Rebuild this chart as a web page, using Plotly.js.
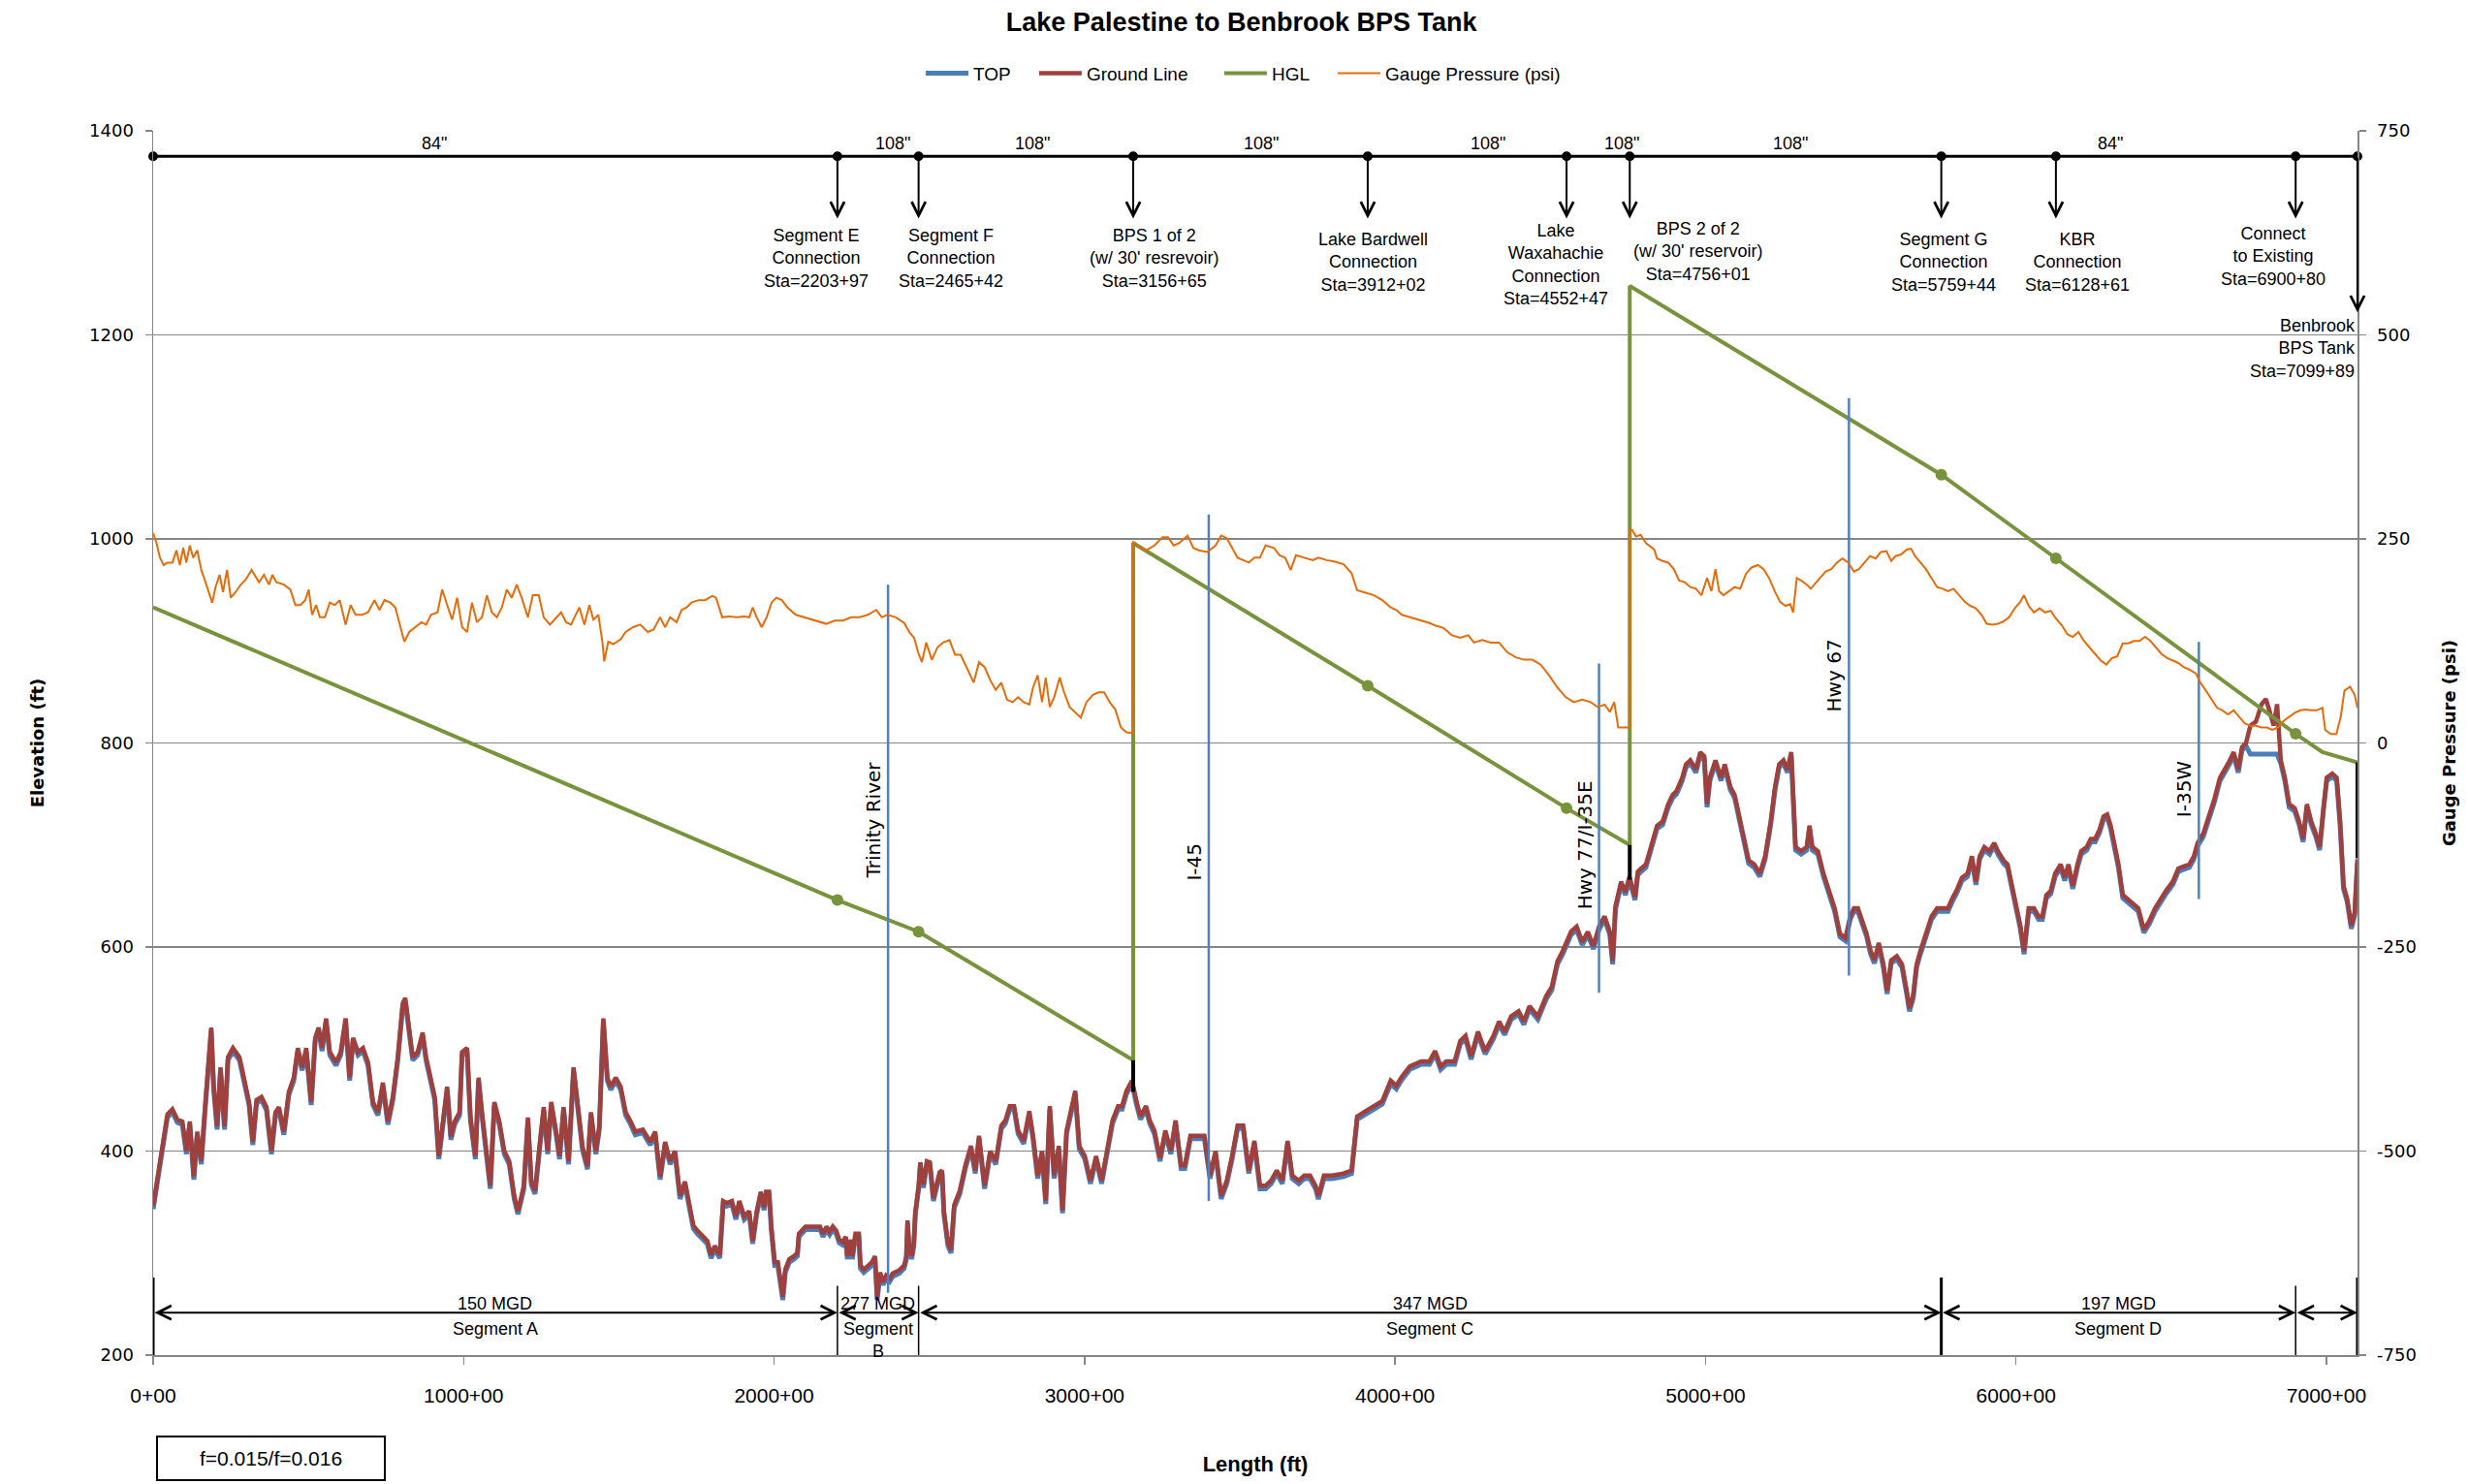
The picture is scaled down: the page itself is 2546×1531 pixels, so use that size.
<!DOCTYPE html>
<html><head><meta charset="utf-8">
<script src="https://cdn.plot.ly/plotly-3.0.1.min.js"></script>
<style>html,body{margin:0;padding:0;background:#fff;}#chart{width:2546px;height:1531px;}</style>
</head><body><div id="chart"></div>
<script>
// ---------- DATA (stations in hundreds of feet, elevations in ft) ----------
const groundSta = [0,14,30,46,62,78,94,107,118,131,142,155,166,174,187,195,206,217,230,241,257,278,293,309,321,333,349,365,381,394,405,421,437,453,466,480,493,509,522,533,544,557,569,589,604,620,633,644,660,676,692,708,724,740,756,772,788,804,812,820,836,852,868,879,892,907,920,931,947,959,971,987,995,1011,1022,1038,1048,1059,1070,1086,1099,1115,1131,1147,1163,1175,1194,1207,1218,1230,1246,1258,1271,1282,1298,1309,1322,1338,1354,1370,1383,1399,1410,1426,1437,1450,1463,1474,1490,1506,1522,1538,1553,1577,1601,1617,1633,1649,1665,1681,1697,1713,1729,1740,1753,1769,1785,1797,1809,1825,1836,1848,1864,1877,1888,1904,1920,1931,1944,1957,1968,1974,1984,1991,2002,2012,2023,2028,2036,2049,2064,2075,2080,2090,2101,2148,2158,2169,2179,2189,2200,2210,2221,2231,2236,2247,2252,2262,2273,2278,2289,2304,2315,2325,2332,2341,2351,2361,2372,2382,2403,2419,2426,2430,2434,2443,2450,2455,2466,2471,2481,2492,2502,2513,2523,2533,2541,2547,2560,2570,2580,2598,2616,2634,2648,2660,2678,2696,2714,2732,2745,2759,2773,2786,2804,2822,2834,2849,2863,2875,2888,2902,2917,2929,2942,2956,2970,2983,3001,3019,3037,3055,3072,3090,3108,3121,3135,3153,3167,3180,3198,3210,3225,3243,3260,3278,3293,3311,3323,3341,3359,3386,3404,3422,3440,3458,3475,3493,3511,3529,3547,3565,3583,3601,3619,3637,3654,3669,3690,3708,3726,3744,3753,3771,3798,3834,3860,3878,3905,3932,3959,3986,4004,4022,4048,4084,4111,4129,4147,4165,4192,4210,4227,4245,4267,4290,4317,4335,4353,4374,4398,4415,4433,4460,4487,4505,4523,4540,4567,4585,4603,4621,4639,4657,4675,4692,4701,4710,4728,4742,4755,4773,4782,4808,4826,4844,4862,4880,4894,4907,4925,4937,4951,4969,4983,4996,5005,5014,5032,5050,5062,5080,5094,5112,5126,5139,5157,5175,5192,5210,5224,5237,5251,5264,5276,5290,5308,5326,5335,5344,5362,5380,5398,5416,5433,5451,5466,5478,5491,5505,5519,5532,5544,5558,5573,5585,5598,5616,5633,5648,5657,5669,5680,5692,5710,5728,5746,5764,5781,5794,5808,5826,5844,5858,5871,5883,5898,5915,5930,5942,5960,5973,5987,6001,6014,6026,6041,6058,6073,6085,6098,6112,6126,6144,6157,6169,6183,6198,6210,6228,6241,6255,6269,6282,6294,6305,6317,6330,6344,6358,6376,6394,6412,6430,6448,6465,6483,6505,6523,6540,6558,6573,6585,6603,6621,6639,6657,6674,6689,6701,6716,6728,6741,6755,6773,6791,6805,6818,6830,6841,6853,6866,6880,6898,6912,6925,6937,6951,6966,6978,6991,7001,7019,7033,7044,7055,7067,7080,7091,7099.89];
const groundElev = [346,375,409,436,441,431,429,400,429,375,419,390,438,472,521,463,424,482,424,492,501,492,472,448,409,450,453,443,400,438,443,419,458,472,501,482,501,448,511,521,501,530,497,487,497,530,472,511,497,501,487,448,438,467,429,453,492,545,550,530,492,497,516,492,472,453,395,424,463,414,429,438,497,501,433,395,472,438,409,366,448,429,400,390,356,341,366,433,370,361,409,443,400,448,419,395,443,390,482,438,404,385,438,400,424,530,472,463,472,463,438,429,419,421,409,419,375,409,390,400,356,370,346,327,322,317,312,298,307,298,351,349,351,336,351,336,341,312,341,360,345,360,360,326,291,291,265,257,284,294,297,300,319,322,326,326,319,326,321,326,322,313,311,316,297,313,297,319,319,288,284,288,291,297,257,281,272,278,275,280,283,288,297,332,310,297,310,341,367,389,367,390,389,354,367,379,381,341,310,303,347,361,386,405,381,415,366,400,390,425,430,444,444,420,410,439,415,376,400,351,444,376,405,342,420,439,459,405,395,371,395,371,400,430,444,444,459,469,449,434,444,430,420,393,420,400,430,386,386,415,415,415,376,400,356,371,395,425,425,381,410,366,366,371,381,371,410,376,371,376,376,366,356,376,376,378,381,434,439,444,449,469,464,473,483,488,488,498,483,488,488,508,513,493,517,498,513,527,517,532,537,527,542,532,552,561,586,596,615,620,605,615,601,620,630,615,586,640,664,654,669,649,674,681,702,719,723,740,749,753,766,779,783,774,791,787,740,766,783,766,779,757,749,723,702,685,681,672,689,723,757,779,783,774,791,698,694,698,719,698,694,672,655,638,613,609,630,638,638,626,613,596,587,604,583,557,587,591,583,557,540,553,583,596,613,630,638,638,638,647,655,668,672,689,664,689,698,694,702,694,685,681,660,643,621,596,638,638,630,630,651,655,672,681,668,681,660,681,694,698,706,706,715,728,730,719,702,681,651,647,643,638,617,626,638,647,655,664,677,679,681,689,702,711,728,745,766,774,783,791,774,796,800,817,821,838,843,830,817,838,783,766,740,736,723,706,740,723,711,698,740,766,770,766,723,660,647,621,634,686];
const topElev = [343,372,406,433,438,428,426,397,426,372,416,387,435,469,518,460,421,479,421,489,498,489,469,445,406,447,450,440,397,435,440,416,455,469,498,479,498,445,508,518,498,527,494,484,494,527,469,508,494,498,484,445,435,464,426,450,489,542,547,527,489,494,513,489,469,450,392,421,460,411,426,435,494,498,430,392,469,435,406,363,445,426,397,387,353,338,363,430,367,358,406,440,397,445,416,392,440,387,479,435,401,382,435,397,421,527,469,460,469,460,435,426,416,418,406,416,372,406,387,397,353,367,343,324,319,314,309,295,304,295,348,346,348,333,348,333,338,309,338,357,342,357,357,323,288,288,262,254,281,291,294,297,316,319,323,323,316,323,318,323,319,310,308,313,294,310,294,316,316,285,281,285,288,294,254,278,269,275,272,277,280,285,294,329,307,294,307,338,364,386,364,387,386,351,364,376,378,338,307,300,344,358,383,402,378,412,363,397,387,422,427,441,441,417,407,436,412,373,397,348,441,373,402,339,417,436,456,402,392,368,392,368,397,427,441,441,456,466,446,431,441,427,417,390,417,397,427,383,383,412,412,412,373,397,353,368,392,422,422,378,407,363,363,368,378,368,407,373,368,373,373,363,353,373,373,375,378,431,436,441,446,466,461,470,480,485,485,495,480,485,485,505,510,490,514,495,510,524,514,529,534,524,539,529,549,558,583,593,612,617,602,612,598,617,627,612,583,637,661,651,666,646,671,678,699,716,720,737,746,750,763,776,780,771,788,784,737,763,780,763,776,754,746,720,699,682,678,669,686,720,754,776,780,771,788,695,691,695,716,695,691,669,652,635,610,606,627,635,635,623,610,593,584,601,580,554,584,588,580,554,537,550,580,593,610,627,635,635,635,644,652,665,669,686,661,686,695,691,699,691,682,678,657,640,618,593,635,635,627,627,648,652,669,678,665,678,657,678,691,695,703,703,712,725,727,716,699,678,648,644,640,635,614,623,635,644,652,661,674,676,678,686,699,708,725,742,763,771,780,788,771,793,797,789,789,789,789,789,789,789,780,763,737,733,720,703,737,720,708,695,737,763,767,763,720,657,644,618,631,683];

const hglSta  = [0, 2203.97, 2465.42, 3156.65, 3156.65, 3912.02, 4552.47, 4756.01, 4756.01, 5759.44, 6128.61, 6900.80, 6987, 7099.89];
const hglElev = [933, 646, 615, 489, 996, 856, 736, 700, 1248, 1063, 981, 809, 791, 781];

const pressSta = [0,11,22,34,46,62,75,86,97,107,118,129,142,155,166,177,190,201,214,225,238,250,266,282,298,317,330,341,357,373,384,397,421,442,458,474,490,501,512,525,537,553,569,585,601,620,636,652,673,692,713,729,745,764,780,796,809,825,844,864,879,895,916,931,947,963,979,995,1011,1027,1043,1059,1075,1091,1107,1123,1139,1155,1171,1187,1207,1223,1242,1258,1278,1298,1314,1330,1346,1357,1373,1389,1405,1418,1434,1447,1453,1466,1482,1506,1522,1546,1569,1593,1612,1633,1649,1665,1686,1702,1718,1734,1756,1777,1801,1813,1833,1856,1880,1904,1920,1931,1944,1960,1976,1992,2007,2025,2043,2070,2096,2132,2168,2195,2222,2249,2276,2302,2329,2347,2365,2392,2419,2437,2451,2464,2476,2490,2508,2526,2544,2565,2583,2601,2625,2643,2660,2678,2696,2714,2732,2750,2768,2786,2804,2822,2834,2849,2863,2875,2888,2902,2920,2934,2952,2970,2988,3006,3027,3045,3063,3081,3099,3117,3135,3156.65,3156.65,3162,3180,3198,3225,3251,3269,3287,3305,3332,3350,3368,3395,3422,3440,3458,3475,3493,3511,3529,3547,3565,3583,3610,3628,3646,3664,3681,3708,3735,3753,3780,3807,3834,3860,3878,3905,3932,3959,3986,4004,4022,4048,4084,4111,4129,4156,4183,4210,4236,4254,4281,4308,4335,4362,4389,4415,4442,4469,4496,4523,4550,4576,4603,4630,4653,4675,4692,4706,4719,4737,4756.01,4756.01,4764,4776,4791,4808,4835,4844,4862,4880,4898,4915,4933,4951,4969,4987,5005,5019,5032,5044,5058,5076,5094,5112,5130,5148,5169,5187,5205,5223,5240,5258,5273,5282,5294,5308,5326,5339,5351,5369,5387,5405,5423,5441,5460,5478,5494,5512,5530,5548,5565,5583,5598,5612,5630,5648,5662,5675,5692,5710,5728,5746,5764,5781,5799,5817,5835,5853,5871,5889,5906,5924,5942,5960,5978,5996,6014,6026,6041,6058,6076,6094,6112,6130,6148,6166,6183,6201,6219,6237,6255,6273,6291,6309,6326,6344,6362,6380,6398,6416,6433,6451,6469,6487,6505,6523,6540,6558,6580,6594,6612,6630,6648,6665,6683,6701,6719,6737,6755,6773,6791,6808,6826,6844,6862,6880,6898,6916,6933,6951,6969,6987,6996,7014,7032,7046,7058,7076,7091,7099.89];
const pressPsi = [257,245,227,218,221,221,236,218,239,221,242,227,236,212,200,188,172,191,206,185,212,178,185,194,200,212,203,197,206,194,206,197,194,188,169,169,175,188,157,169,154,154,172,169,175,145,169,157,157,160,175,163,175,172,166,142,124,136,142,148,145,157,160,188,169,151,178,142,136,172,148,154,181,160,154,166,188,178,194,178,154,181,181,154,145,154,160,148,145,154,166,145,169,151,157,124,100,124,121,127,136,142,145,136,139,154,142,154,148,163,166,172,175,175,180,178,154,155,154,155,154,166,154,142,154,172,178,175,166,157,154,150,146,150,150,154,154,157,163,154,157,154,147,135,129,111,99,123,102,117,123,126,108,108,89,74,99,93,77,65,74,53,50,56,50,47,68,83,50,80,44,56,80,62,44,38,31,50,59,62,62,50,41,19,13,12,246,245,239,236,242,252,252,242,245,254,239,236,234,242,254,251,239,227,224,221,227,227,242,239,230,227,212,230,227,224,227,224,222,219,208,187,184,181,175,166,163,157,154,150,147,144,141,132,129,132,123,126,123,123,111,105,102,102,96,83,68,56,50,53,50,44,47,38,50,19,19,19,261,261,253,255,245,237,226,223,221,213,199,197,191,189,181,202,186,213,186,181,186,191,189,207,215,218,213,202,186,173,168,170,160,202,199,194,189,194,202,210,213,221,226,221,210,213,221,229,226,234,235,223,229,231,237,238,229,221,213,202,191,189,186,189,181,173,168,165,157,146,145,146,149,154,165,173,181,168,160,165,160,162,152,144,133,130,136,125,117,109,101,96,104,106,122,122,125,125,130,125,117,109,104,101,98,93,90,85,74,64,53,43,40,35,40,32,24,21,21,19,19,16,19,27,32,37,40,41,40,40,43,16,11,11,32,64,69,59,43];

// pipeline junctions along the top bar
const junctionSta = [0, 2203.97, 2465.42, 3156.65, 3912.02, 4552.47, 4756.01, 5759.44, 6128.61, 6900.80, 7099.89];
const junctionLabels = ["Segment E<br>Connection<br>Sta=2203+97", "Segment F<br>Connection<br>Sta=2465+42",
  "BPS 1 of 2<br>(w/ 30' resrevoir)<br>Sta=3156+65", "Lake Bardwell<br>Connection<br>Sta=3912+02",
  "Lake<br>Waxahachie<br>Connection<br>Sta=4552+47", "BPS 2 of 2<br>(w/ 30' reservoir)<br>Sta=4756+01",
  "Segment G<br>Connection<br>Sta=5759+44", "KBR<br>Connection<br>Sta=6128+61",
  "Connect<br>to Existing<br>Sta=6900+80", "Benbrook<br>BPS Tank<br>Sta=7099+89"];
const diamText = ['84"', '108"', '108"', '108"', '108"', '108"', '108"', '84"'];

// road / river crossings
const crossName = ['Trinity River', 'I-45', 'Hwy 77/I-35E', 'Hwy 67', 'I-35W'];
const crossSta  = [2367, 3400, 4657, 5462, 6589];
const crossLow  = [261, 351, 555, 572, 647];
const crossHigh = [955, 1024, 878, 1138, 899];

// pump stations / tank
const bpsSta  = [3156.65, 4756.01, 7099.89];
const bpsLow  = [458, 666, 687];
const bpsHigh = [489, 700, 781];

// flow segments along the bottom
const segBounds = [0, 2203.97, 2465.42, 5759.44, 6900.80, 7099.89];
const segFlow = ['150 MGD', '277 MGD', '347 MGD', '197 MGD', ''];
const segName = ['Segment A', 'Segment<br>B', 'Segment C', 'Segment D', ''];

const xTickVals = [0, 1000, 2000, 3000, 4000, 5000, 6000, 7000];
const xTickText = ['0+00', '1000+00', '2000+00', '3000+00', '4000+00', '5000+00', '6000+00', '7000+00'];
const psiTickVals = [-750, -500, -250, 0, 250, 500, 750];
const psiTickText = ['-750', '-500', '-250', '0', '250', '500', '750'];

// ---------- placement (layout only) ----------
const barElev = 1375, arrowTipElev = 1314, tankArrowTipElev = 1222;
const junctionLabelSta = [2137, 2569, 3223, 3929, 4518, 4975, 5766, 6198, 6827, 7099.89];
const junctionLabelTop = [1309, 1309, 1309, 1305, 1314, 1315, 1305, 1305, 1311, 1220];
const diamLabelSta = [904, 2381, 2832, 3569, 4299, 4731, 5274, 6305];
const crossLabelElev = [724, 684, 700, 866, 755];
const flowArrowElev = 241.6;
const thickBounds = [0, 5759.44, 7099.89];
const legendX = [0.3483, 0.3997, 0.4837, 0.5352];

[[groundSta, groundElev], [groundSta, topElev], [pressSta, pressPsi], [hglSta, hglElev]].forEach(function (p, i) {
  if (p[0].length !== p[1].length) throw new Error('length mismatch ' + i + ': ' + p[0].length + ' vs ' + p[1].length);
});

const F_NARROW = 'Liberation Sans, Arial, sans-serif';
const F_VERD = 'DejaVu Sans, Verdana, sans-serif';
const GRID = '#868686';

function segs(xs, lo, hi) {
  const x = [], y = [];
  xs.forEach(function (s, i) { x.push(s, s, null); y.push(lo[i], hi[i], null); });
  return {x: x, y: y};
}
const bpsSeg = segs(bpsSta, bpsLow, bpsHigh);
const crossSeg = segs(crossSta, crossLow, crossHigh);
const hglNodeX = [], hglNodeY = [];
hglSta.forEach(function (s, i) {
  if (i > 0 && i < hglSta.length - 1 && junctionSta.indexOf(s) >= 0 && bpsSta.indexOf(s) < 0) { hglNodeX.push(s); hglNodeY.push(hglElev[i]); }
});

const data = [
  {type: 'scatter', mode: 'lines', name: 'TOP', legend: 'legend', x: groundSta, y: topElev, line: {color: '#4A7EBB', width: 5}},
  {type: 'scatter', mode: 'lines', name: 'Ground Line', legend: 'legend2', x: groundSta, y: groundElev, line: {color: '#A0403D', width: 4.5}},
  {type: 'scatter', mode: 'lines', name: 'HGL', legend: 'legend3', x: hglSta, y: hglElev, line: {color: '#77933C', width: 4}},
  {type: 'scatter', mode: 'markers', showlegend: false, x: hglNodeX, y: hglNodeY, marker: {color: '#77933C', size: 12}},
  {type: 'scatter', mode: 'lines', showlegend: false, x: bpsSeg.x, y: bpsSeg.y, line: {color: '#000', width: 4}},
  {type: 'scatter', mode: 'lines', showlegend: false, x: crossSeg.x, y: crossSeg.y, line: {color: '#4F81BD', width: 2.5}},
  {type: 'scatter', mode: 'lines+markers', showlegend: false, cliponaxis: false, x: junctionSta, y: junctionSta.map(function () { return barElev; }),
    line: {color: '#000', width: 3}, marker: {color: '#000', size: 10}},
  {type: 'scatter', mode: 'lines', name: 'Gauge Pressure (psi)', legend: 'legend4', x: pressSta, y: pressPsi, yaxis: 'y2', line: {color: '#E46C0A', width: 2}}
];

const ann = [];
const lastSta = junctionSta[junctionSta.length - 1];
junctionSta.forEach(function (s, i) {
  if (i === 0) return;
  ann.push({x: s, y: s === lastSta ? tankArrowTipElev : arrowTipElev, ax: s, ay: barElev, xref: 'x', yref: 'y', axref: 'x', ayref: 'y',
    text: '', showarrow: true, arrowhead: 5, arrowsize: 1.4, arrowwidth: 2, arrowcolor: '#000', standoff: 0});
  const isLast = s === lastSta;
  ann.push({x: junctionLabelSta[i - 1], y: junctionLabelTop[i - 1], xref: 'x', yref: 'y', text: junctionLabels[i - 1], showarrow: false,
    xanchor: isLast ? 'right' : 'center', yanchor: 'top', align: isLast ? 'right' : 'center',
    font: {family: F_NARROW, size: 18, color: '#000'}});
});
diamText.forEach(function (t, i) {
  ann.push({x: diamLabelSta[i], y: 1388, xref: 'x', yref: 'y', text: t, showarrow: false, yanchor: 'middle',
    font: {family: F_NARROW, size: 18, color: '#000'}});
});
crossName.forEach(function (t, i) {
  ann.push({x: crossSta[i], y: crossLabelElev[i], xref: 'x', yref: 'y', xshift: -15, text: t, showarrow: false, textangle: -90,
    xanchor: 'center', yanchor: 'middle', font: {family: F_VERD, size: 20, color: '#000'}});
});
for (let i = 0; i < segBounds.length - 1; i++) {
  ann.push({x: segBounds[i + 1], y: flowArrowElev, ax: segBounds[i], ay: flowArrowElev, xref: 'x', yref: 'y', axref: 'x', ayref: 'y',
    text: '', showarrow: true, arrowside: 'end+start', arrowhead: 5, startarrowhead: 5, arrowsize: 1.4, startarrowsize: 1.4,
    arrowwidth: 2, arrowcolor: '#000', standoff: 0, startstandoff: 0});
  const mid = (segBounds[i] + segBounds[i + 1]) / 2;
  if (segFlow[i]) ann.push({x: mid, y: 250, xref: 'x', yref: 'y', text: segFlow[i], showarrow: false, yanchor: 'middle',
    font: {family: F_NARROW, size: 18, color: '#000'}});
  if (segName[i]) ann.push({x: mid, y: 237, xref: 'x', yref: 'y', text: segName[i], showarrow: false, yanchor: 'top',
    font: {family: F_NARROW, size: 18, color: '#000'}});
}
ann.push({x: 0.0013, y: -0.0657, xref: 'paper', yref: 'paper', xanchor: 'left', yanchor: 'top', text: 'f=0.015/f=0.016',
  showarrow: false, width: 233, height: 43, borderwidth: 2, bordercolor: '#000', bgcolor: '#fff', borderpad: 0,
  font: {family: F_NARROW, size: 21, color: '#000'}});

const shapes = segBounds.map(function (b) {
  const thick = thickBounds.indexOf(b) >= 0;
  return {type: 'line', xref: 'x', yref: 'y', x0: b, x1: b, y0: 200, y1: thick ? 276 : 268, line: {color: '#000', width: thick ? 3 : 1.5}};
});

function legendAt(x) {
  return {orientation: 'h', x: x, xanchor: 'left', y: 1.047, yanchor: 'middle', font: {family: F_NARROW, size: 19, color: '#000'},
    itemwidth: 44, bgcolor: 'rgba(0,0,0,0)', borderwidth: 0};
}

const layout = {
  width: 2546, height: 1531,
  margin: {l: 158, r: 114, t: 135, b: 133},
  paper_bgcolor: '#fff', plot_bgcolor: '#fff',
  showlegend: true,
  hovermode: false,
  title: {text: '<b>Lake Palestine to Benbrook BPS Tank</b>', font: {family: F_NARROW, size: 27, color: '#000'},
    x: 0.503, xref: 'container', xanchor: 'center', y: 0.985, yref: 'container', yanchor: 'middle'},
  legend: legendAt(legendX[0]),
  legend2: legendAt(legendX[1]),
  legend3: legendAt(legendX[2]),
  legend4: legendAt(legendX[3]),
  xaxis: {range: [0, 7100], tickvals: xTickVals, ticktext: xTickText, showgrid: false, zeroline: false,
    showline: true, linecolor: GRID, linewidth: 1.5, ticks: 'outside', ticklen: 8, tickcolor: GRID, tickwidth: 1.5,
    ticklabelstandoff: 14, tickfont: {family: F_NARROW, size: 21, color: '#000'},
    title: {text: '<b>Length (ft)</b>', font: {family: F_NARROW, size: 22, color: '#000'}, standoff: 53}},
  yaxis: {range: [200, 1400], dtick: 200, tick0: 200, showgrid: true, gridcolor: GRID, gridwidth: 1.5, zeroline: false,
    showline: true, linecolor: GRID, linewidth: 1.5, ticks: 'outside', ticklen: 7, tickcolor: GRID, tickwidth: 1.5,
    ticklabelstandoff: 8, tickfont: {family: F_VERD, size: 18, color: '#000'},
    title: {text: '<b>Elevation (ft)</b>', font: {family: F_VERD, size: 18, color: '#000'}, standoff: 42}},
  yaxis2: {overlaying: 'y', side: 'right', range: [-750, 750], tickvals: psiTickVals, ticktext: psiTickText, showgrid: false, zeroline: false,
    showline: true, linecolor: GRID, linewidth: 1.5, ticks: 'outside', ticklen: 7, tickcolor: GRID, tickwidth: 1.5,
    ticklabelstandoff: 8, tickfont: {family: F_VERD, size: 18, color: '#000'},
    title: {text: '<b>Gauge Pressure (psi)</b>', font: {family: F_VERD, size: 18, color: '#000'}, standoff: 28}},
  annotations: ann,
  shapes: shapes
};

Plotly.newPlot('chart', data, layout, {staticPlot: true, displayModeBar: false});
</script>
</body></html>
